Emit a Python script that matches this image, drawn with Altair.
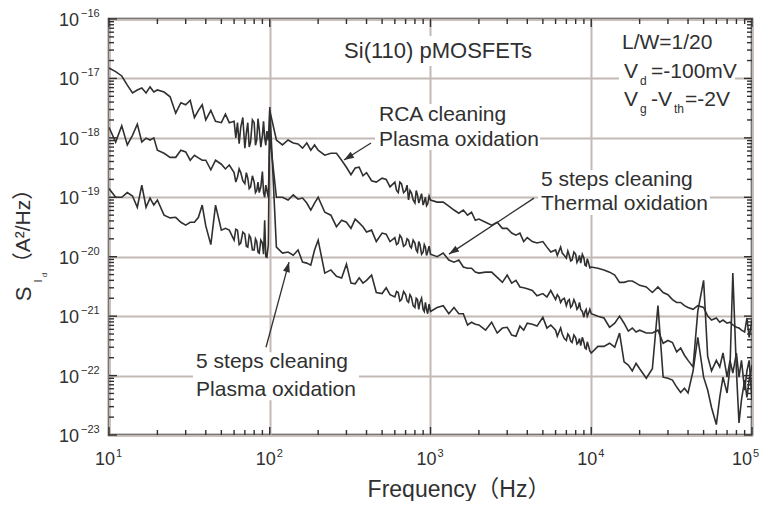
import altair as alt
import pandas as pd

FONT = "Liberation Sans, Arial, Noto Sans CJK JP, sans-serif"
INK = "#303030"
GRID = "#c3b9b5"
W, H = 643, 416

# ---------------- data ----------------
freq = [10, 11, 12, 13, 14, 15, 16, 17, 18, 19, 20, 22, 24, 26, 28, 30, 32, 34, 36, 38,
        40, 43, 46, 50, 53, 56, 60, 63, 66, 70, 73, 76, 80, 83, 86, 90, 93, 96,
        100, 110, 120, 130, 140, 150, 160, 170, 180, 190, 200, 220, 240, 260, 280, 300, 320, 340, 360, 380,
        400, 430, 460, 500, 530, 560, 600, 630, 660, 700, 730, 760, 800, 830, 860, 900, 930, 960,
        1000, 1100, 1200, 1300, 1400, 1500, 1600, 1700, 1800, 1900, 2000, 2200, 2400, 2600, 2800, 3000, 3200, 3400, 3600, 3800,
        4000, 4300, 4600, 5000, 5300, 5600, 6000, 6300, 6600, 7000, 7300, 7600, 8000, 8300, 8600, 9000, 9300, 9600,
        10000, 11000, 12000, 13000, 14000, 15000, 16000, 17000, 18000, 19000, 20000, 22000, 24000, 26000, 28000, 30000, 32000, 34000, 36000, 38000,
        40000, 43000, 46000, 50000, 53000, 56000, 60000, 63000, 66000, 70000, 73000, 76000, 80000, 83000, 86000, 90000, 93000, 96000,
        100000]

rca_plasma = [
    1.5e-17, 1.3e-17, 1.1e-17, 7.7e-18, 5.7e-18, 6.4e-18, 6.9e-18, 5.7e-18, 7.2e-18, 5.9e-18,
    6.4e-18, 5.9e-18, 4.9e-18, 2.6e-18, 3.9e-18, 3.6e-18, 4.3e-18, 2.2e-18, 2.9e-18, 3.6e-18,
    2.0e-18, 2.9e-18, 1.9e-18, 1.8e-18, 2.5e-18, 1.8e-18, 1.9e-18, 1.8e-18, 1.5e-18, 6.7e-19,
    1.8e-18, 8.5e-19, 1.8e-18, 9.2e-19, 1.4e-18, 1.1e-18, 1.0e-18, 1.3e-18,
    2.9e-18, 9.2e-19, 7.6e-19, 9.2e-19, 8.2e-19, 7.9e-19, 6.7e-19, 8.2e-19, 6.2e-19, 7.6e-19,
    6.2e-19, 5.1e-19, 5.5e-19, 5.5e-19, 4.2e-19, 3.2e-19, 2.4e-19, 3.1e-19, 3.2e-19, 2.3e-19,
    2.6e-19, 1.9e-19, 1.8e-19, 2.1e-19, 2.0e-19, 1.5e-19, 1.8e-19, 1.2e-19, 1.7e-19, 1.3e-19,
    9.0e-20, 1.2e-19, 8.0e-20, 1.1e-19, 9.3e-20, 7.4e-20, 1.0e-19, 7.7e-20,
    9.0e-20, 8.3e-20, 8.3e-20, 7.1e-20, 6.1e-20, 5.4e-20, 6.1e-20, 5.0e-20, 5.6e-20, 4.1e-20,
    4.3e-20, 3.8e-20, 3.4e-20, 3.8e-20, 3.0e-20, 3.0e-20, 2.5e-20, 2.3e-20, 2.5e-20, 1.8e-20,
    2.1e-20, 1.8e-20, 1.7e-20, 1.8e-20, 1.45e-20, 1.2e-20, 1.3e-20, 1.24e-20, 1.15e-20, 9.5e-21,
    1.06e-20, 8.8e-21, 1.1e-20, 8.8e-21, 7.8e-21, 9.5e-21, 7.0e-21, 8.1e-21,
    6.7e-21, 6.4e-21, 6.0e-21, 5.5e-21, 4.9e-21, 3.7e-21, 3.7e-21, 3.9e-21, 3.9e-21, 3.6e-21,
    3.3e-21, 3.1e-21, 2.5e-21, 3.1e-21, 2.5e-21, 2.3e-21, 1.9e-21, 1.7e-21, 1.7e-21, 1.5e-21,
    1.4e-21, 1.3e-21, 1.5e-21, 1.4e-21, 1.0e-21, 8.6e-22, 9.3e-22, 7.9e-22, 8.6e-22, 7.6e-22,
    7.9e-22, 7.1e-22, 6.5e-22, 6.3e-22, 5.8e-22, 5.4e-22, 9.3e-22, 4.4e-22,
    8.6e-22]

steps5_thermal = [
    1.5e-18, 8.5e-19, 1.6e-18, 7.6e-19, 1.1e-18, 1.7e-18, 8.5e-19, 9.9e-19, 9.2e-19, 1.0e-18,
    6.2e-19, 5.5e-19, 4.7e-19, 4.7e-19, 6.2e-19, 5.8e-19, 4.2e-19, 5.1e-19, 4.6e-19, 4.2e-19,
    4.2e-19, 2.9e-19, 4.2e-19, 3.6e-19, 3.0e-19, 3.5e-19, 2.6e-19, 2.2e-19, 2.6e-19, 1.7e-19,
    2.1e-19, 1.5e-19, 1.8e-19, 1.3e-19, 1.2e-19, 2.7e-19, 1.0e-19, 1.3e-19,
    1.1e-18, 1.0e-19, 1.0e-19, 9.0e-20, 1.1e-19, 9.3e-20, 9.7e-20, 8.0e-20, 6.1e-20, 8.0e-20,
    1.0e-19, 5.6e-20, 5.0e-20, 3.2e-20, 4.1e-20, 3.8e-20, 3.0e-20, 4.3e-20, 3.7e-20, 3.2e-20,
    2.6e-20, 2.8e-20, 1.8e-20, 2.5e-20, 2.4e-20, 1.8e-20, 2.1e-20, 1.7e-20, 2.1e-20, 1.6e-20,
    1.9e-20, 1.4e-20, 1.7e-20, 1.2e-20, 1.6e-20, 1.2e-20, 1.45e-20, 1.2e-20,
    1.1e-20, 1.0e-20, 1.15e-20, 8.8e-21, 8.1e-21, 8.8e-21, 6.7e-21, 6.4e-21, 6.4e-21, 5.5e-21,
    5.3e-21, 5.5e-21, 5.5e-21, 4.5e-21, 3.7e-21, 4.9e-21, 3.6e-21, 4.0e-21, 3.1e-21, 3.0e-21,
    2.9e-21, 2.7e-21, 2.2e-21, 2.4e-21, 2.1e-21, 2.7e-21, 1.9e-21, 2.1e-21, 1.9e-21, 1.5e-21,
    1.9e-21, 1.5e-21, 1.6e-21, 1.4e-21, 1.3e-21, 9.6e-22, 1.3e-21, 1.1e-21,
    1.1e-21, 1.0e-21, 9.3e-22, 6.5e-22, 7.6e-22, 1.0e-21, 7.6e-22, 5.6e-22, 6.3e-22, 5.4e-22,
    5.8e-22, 5.2e-22, 5.2e-22, 5.8e-22, 3.5e-22, 3.9e-22, 3.6e-22, 2.5e-22, 2.9e-22, 2.2e-22,
    1.8e-22, 1.4e-22, 1.2e-21, 4.0e-21, 2.1e-22, 1.2e-22, 1.8e-22, 1.4e-22, 2.4e-22, 9.4e-23,
    1.8e-22, 1.1e-22, 2.4e-22, 9.4e-23, 1.8e-22, 5.7e-23, 1.2e-22, 1.8e-22,
    3.9e-23]

steps5_plasma = [
    1.4e-19, 1.0e-19, 1.0e-19, 1.2e-19, 1.05e-19, 6.8e-20, 1.6e-19, 6.8e-20, 9.7e-20, 7.4e-20,
    9.0e-20, 5.0e-20, 4.5e-20, 4.6e-20, 3.8e-20, 3.4e-20, 3.8e-20, 3.8e-20, 4.6e-20, 7.4e-20,
    3.3e-20, 1.6e-20, 7.4e-20, 2.8e-20, 3.0e-20, 2.8e-20, 1.9e-20, 2.8e-20, 1.7e-20, 2.4e-20,
    1.45e-20, 2.1e-20, 1.3e-20, 1.8e-20, 1.15e-20, 1.7e-20, 4.1e-20, 9.8e-21,
    3.3e-18, 1.45e-20, 1.15e-20, 1.2e-20, 1.06e-20, 1.3e-20, 8.1e-21, 7.8e-21, 7.2e-21, 1.3e-20,
    1.9e-20, 5.3e-21, 6.0e-21, 4.7e-21, 4.4e-21, 7.5e-21, 3.6e-21, 3.5e-21, 4.4e-21, 3.6e-21,
    4.0e-21, 4.9e-21, 2.5e-21, 2.4e-21, 3.0e-21, 2.3e-21, 2.1e-21, 2.5e-21, 1.9e-21, 2.3e-21,
    1.7e-21, 2.1e-21, 1.4e-21, 1.9e-21, 1.7e-21, 1.3e-21, 1.7e-21, 1.1e-21,
    1.2e-21, 1.4e-21, 1.5e-21, 1.1e-21, 1.4e-21, 1.1e-21, 1.1e-21, 7.1e-22, 7.9e-22, 7.3e-22,
    7.1e-22, 5.8e-22, 7.9e-22, 5.2e-22, 6.3e-22, 6.5e-22, 4.8e-22, 4.6e-22, 6.8e-22, 5.8e-22,
    7.6e-22, 7.3e-22, 6.8e-22, 9.6e-22, 6.3e-22, 7.1e-22, 5.8e-22, 5.4e-22, 5.0e-22, 3.9e-22,
    4.6e-22, 3.6e-22, 4.3e-22, 3.6e-22, 3.2e-22, 3.6e-22, 2.8e-22, 3.2e-22,
    2.4e-22, 3.1e-22, 3.1e-22, 3.5e-22, 3.0e-22, 5.2e-22, 1.7e-22, 1.5e-22, 1.2e-22, 1.6e-22,
    1.3e-22, 9.0e-23, 1.3e-22, 1.5e-21, 9.4e-23, 9.0e-23, 8.4e-23, 6.4e-23, 5.2e-23, 6.1e-23,
    5.1e-23, 1.2e-22, 4.4e-22, 9.4e-23, 5.7e-23, 2.9e-23, 1.5e-23, 4.3e-23, 9.4e-23, 5.1e-23,
    1.4e-22, 5.3e-21, 1.2e-22, 1.6e-23, 3.9e-23, 8.4e-23, 4.3e-23, 8.4e-23,
    1.5e-22]

# extra readings inside the dense (noisy) end of each decade
dense_freq = [61.5, 64.5, 68, 71.5, 74.5, 78, 81.5, 84.5, 88, 91.5, 94.5, 98,
              615, 645, 680, 715, 745, 780, 815, 845, 880, 915, 945, 980,
              6150, 6450, 6800, 7150, 7450, 7800, 8150, 8450, 8800, 9150, 9450, 9800]
rca_plasma_dense = [
    1.0e-18, 8.0e-19, 2.2e-18, 1.2e-18, 7.0e-19, 2.0e-18, 7.5e-19, 2.1e-18, 7.0e-19, 1.9e-18, 7.5e-19, 9.0e-19,
    1.3e-19, 1.8e-19, 1.2e-19, 1.6e-19, 1.3e-19, 9.0e-20, 1.3e-19, 8.0e-20, 1.15e-19, 8.5e-20, 7.2e-20, 1.05e-19,
    1.05e-20, 1.45e-20, 1.05e-20, 1.25e-20, 8.5e-21, 1.2e-20, 8.0e-21, 1.05e-20, 1.1e-20, 7.2e-21, 9.2e-21, 6.5e-21]
steps5_thermal_dense = [
    1.8e-19, 3.0e-19, 1.9e-19, 2.6e-19, 1.4e-19, 2.3e-19, 1.2e-19, 1.8e-19, 1.5e-19, 1.2e-19, 1.6e-19, 1.0e-19,
    1.6e-20, 2.3e-20, 1.5e-20, 2.0e-20, 1.5e-20, 1.9e-20, 1.3e-20, 1.8e-20, 1.1e-20, 1.6e-20, 1.05e-20, 1.5e-20,
    2.3e-21, 1.7e-21, 2.0e-21, 1.8e-21, 1.4e-21, 1.9e-21, 1.3e-21, 1.7e-21, 1.2e-21, 1.2e-21, 1.0e-21, 1.3e-21]
steps5_plasma_dense = [
    2.9e-20, 1.6e-20, 2.6e-20, 1.5e-20, 2.3e-20, 1.3e-20, 2.0e-20, 1.2e-20, 1.9e-20, 1.1e-20, 1.0e-20, 1.6e-20,
    2.6e-21, 1.8e-21, 2.6e-21, 1.8e-21, 2.3e-21, 1.5e-21, 2.0e-21, 1.3e-21, 2.0e-21, 1.2e-21, 1.3e-21, 1.6e-21,
    4.6e-22, 6.3e-22, 4.2e-22, 5.0e-22, 3.8e-22, 4.8e-22, 3.4e-22, 4.2e-22, 4.4e-22, 2.9e-22, 3.7e-22, 2.6e-22]

series_names = ["RCA cleaning / Plasma oxidation",
                "5 steps cleaning / Thermal oxidation",
                "5 steps cleaning / Plasma oxidation"]

# axis ticks and labels
x_decades = [10, 100, 1000, 10000, 100000]
x_exp_labels = ["1", "2", "3", "4", "5"]
y_decades = [1e-16, 1e-17, 1e-18, 1e-19, 1e-20, 1e-21, 1e-22, 1e-23]
y_exp_labels = ["\u221216", "\u221217", "\u221218", "\u221219", "\u221220", "\u221221", "\u221222", "\u221223"]
minor_mult = [2, 3, 4, 5, 6, 7, 8, 9]
x_minor = [m * d for d in x_decades[:-1] for m in minor_mult]
y_minor = [m * d for d in y_decades[1:] for m in minor_mult]

# annotations (frequency, S positions)
arrow_id = [1, 1, 2, 2, 3, 3]
arrow_f = [426.6, 289.6, 4405, 1303.5, 94.8, 131.8]
arrow_s = [8.18e-19, 4.23e-19, 9.69e-20, 1.106e-20, 3.0e-22, 8.11e-21]
head_f = [289.6, 1303.5, 131.8]
head_s = [4.23e-19, 1.106e-20, 8.11e-21]
head_angle = [147.8, 146.6, 285.1]

bg_x1 = [247.5, 14880, 451.6, 4664, 33.3]
bg_x2 = [5010, 78400, 4800, 54800, 359]
bg_y1 = [5.17e-17, 6.53e-17, 3.71e-18, 2.87e-19, 2.48e-22]
bg_y2 = [1.62e-17, 2.15e-18, 6.23e-19, 5.01e-20, 3.85e-23]

# ---------------- encodings ----------------
XSC = alt.Scale(type="log", domain=[10, 100000], nice=False)
YSC = alt.Scale(type="log", domain=[1e-23, 1e-16], nice=False)
XAX = alt.Axis(values=x_decades, grid=True, gridColor=GRID, gridWidth=2, labels=False,
               ticks=False, domain=False, title=None)
YAX = alt.Axis(values=y_decades, grid=True, gridColor=GRID, gridWidth=2, labels=False,
               ticks=False, domain=False, title=None)


def xs(field):
    return alt.X(field, type="quantitative", scale=XSC, axis=XAX)


def ys(field):
    return alt.Y(field, type="quantitative", scale=YSC, axis=YAX)


layers = []

# white boxes behind the annotation texts
bg_df = pd.DataFrame({"x1": bg_x1, "x2": bg_x2, "y1": bg_y1, "y2": bg_y2})
layers.append(alt.Chart(bg_df).mark_rect(color="white").encode(
    x=xs("x1"), x2="x2", y=ys("y1"), y2="y2"))

# data lines
parts = []
for name, base, dense in [(series_names[0], rca_plasma, rca_plasma_dense),
                          (series_names[1], steps5_thermal, steps5_thermal_dense),
                          (series_names[2], steps5_plasma, steps5_plasma_dense)]:
    parts.append(pd.DataFrame({"freq": freq + dense_freq, "S": base + dense, "sample": name}))
lines_df = pd.concat(parts).sort_values(["sample", "freq"]).reset_index(drop=True)
layers.append(alt.Chart(lines_df).mark_line(color=INK, strokeWidth=1.6, clip=True).encode(
    x=xs("freq"), y=ys("S"), detail="sample:N"))


# inner ticks on all four sides
def xtick(vals, y0, y1):
    return alt.Chart(pd.DataFrame({"t": vals})).mark_rule(color=INK, strokeWidth=1.4).encode(
        x=xs("t"), y=alt.value(y0), y2=alt.value(y1))


def ytick(vals, x0, x1):
    return alt.Chart(pd.DataFrame({"t": vals})).mark_rule(color=INK, strokeWidth=1.4).encode(
        y=ys("t"), x=alt.value(x0), x2=alt.value(x1))


layers += [xtick(x_decades, H, H - 8), xtick(x_minor, H, H - 5),
           xtick(x_decades, 0, 8), xtick(x_minor, 0, 5),
           ytick(y_decades, 0, 8), ytick(y_minor, 0, 5),
           ytick(y_decades, W, W - 8), ytick(y_minor, W, W - 5)]

# axis labels 10^n (the last one is pulled left so it stays inside the page)
xl_df = pd.DataFrame({"v": x_decades, "base": ["10"] * 5, "exp": x_exp_labels})
xl_inner = xl_df.iloc[:4]
xl_last = xl_df.iloc[4:]
for dfx, dxb, dxe in [(xl_inner, 6, 7), (xl_last, 0, 1)]:
    layers.append(alt.Chart(dfx).mark_text(font=FONT, fontSize=18, align="right", baseline="middle",
                                           dx=dxb, color=INK).encode(
        x=xs("v"), y=alt.value(H + 25), text="base:N"))
    layers.append(alt.Chart(dfx).mark_text(font=FONT, fontSize=11, align="left", baseline="middle",
                                           dx=dxe, color=INK).encode(
        x=xs("v"), y=alt.value(H + 19), text="exp:N"))
yl_df = pd.DataFrame({"v": y_decades, "base": ["10"] * 8, "exp": y_exp_labels})
layers.append(alt.Chart(yl_df).mark_text(font=FONT, fontSize=18, align="right", baseline="middle",
                                         dy=2, color=INK).encode(
    y=ys("v"), x=alt.value(-30), text="base:N"))
layers.append(alt.Chart(yl_df).mark_text(font=FONT, fontSize=11, align="left", baseline="middle",
                                         dy=-5, color=INK).encode(
    y=ys("v"), x=alt.value(-28), text="exp:N"))

# arrows
ar_df = pd.DataFrame({"id": arrow_id, "f": arrow_f, "s": arrow_s})
layers.append(alt.Chart(ar_df).mark_line(color=INK, strokeWidth=1.3).encode(
    x=xs("f"), y=ys("s"), detail="id:N"))
hd_df = pd.DataFrame({"f": head_f, "s": head_s, "ang": head_angle})
layers.append(alt.Chart(hd_df).mark_point(shape="M0,0L-2,-0.7L-2,0.7Z", filled=True, size=100,
                                          color=INK, opacity=1).encode(
    x=xs("f"), y=ys("s"), angle=alt.Angle("ang:Q", scale=None)))


# annotation text
def note(f, s, text, size=21, align="left", dx=0, dy=0):
    d = pd.DataFrame({"f": [f], "s": [s], "t": [text]})
    return alt.Chart(d).mark_text(font=FONT, fontSize=size, align=align, baseline="middle",
                                  dx=dx, dy=dy, color=INK).encode(
        x=xs("f"), y=ys("s"), text="t:N")


layers += [
    note(1114, 2.89e-17, "Si(110) pMOSFETs", size=22, align="center"),
    note(15537, 3.94e-17, "L/W=1/20"),
    note(15990, 1.28e-17, "V"),
    note(15990, 1.28e-17, "d", size=12, dx=16, dy=9),
    note(15990, 1.28e-17, "=-100mV", dx=27),
    note(15990, 4.33e-18, "V"),
    note(15990, 4.33e-18, "g", size=12, dx=16, dy=9),
    note(15990, 4.33e-18, "-V", dx=27),
    note(15990, 4.33e-18, "th", size=12, dx=50, dy=9),
    note(15990, 4.33e-18, "=-2V", dx=61),
    note(478, 2.42e-18, "RCA cleaning"),
    note(478, 9.2e-19, "Plasma oxidation"),
    note(4869, 1.95e-19, "5 steps cleaning"),
    note(4869, 7.7e-20, "Thermal oxidation"),
    note(34.8, 1.68e-22, "5 steps cleaning"),
    note(34.8, 5.68e-23, "Plasma oxidation"),
]


# axis titles
def title_piece(px, py, text, size, angle=0):
    return alt.Chart(pd.DataFrame({"t": [text]})).mark_text(
        font=FONT, fontSize=size, align="center", baseline="middle", angle=angle, color=INK).encode(
        x=alt.value(px), y=alt.value(py), text="t:N")


layers += [
    title_piece(350, 471, "Frequency\uff08Hz\uff09", 23),
    title_piece(-85, 275, "S", 22, 270),
    title_piece(-70, 262, "I", 11, 270),
    title_piece(-64, 256, "d", 8, 270),
    title_piece(-85, 207, "\uff08A\u00b2/Hz\uff09", 21, 270),
]

chart = alt.layer(*layers).properties(
    width=W, height=H,
    autosize=alt.AutoSizeParams(type="none"),
    padding={"left": 101, "top": 11, "right": 8, "bottom": 66},
).configure_view(stroke=INK, strokeWidth=2.5)

chart.save("out.html", embed_options={"renderer": "svg", "actions": False})
